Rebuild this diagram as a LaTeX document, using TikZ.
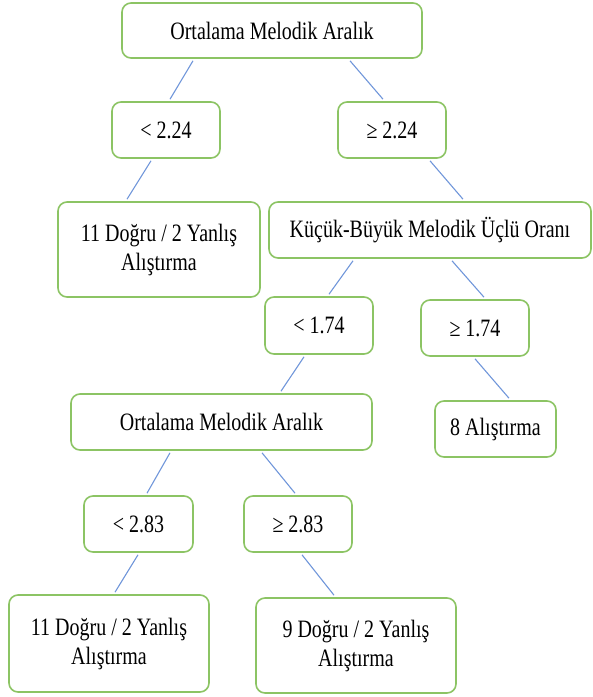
\documentclass[tikz,border=0pt]{standalone}
\usepackage{fontspec}
\setmainfont{Liberation Serif}[FakeStretch=0.8]
\usetikzlibrary{calc}
\definecolor{boxgreen}{RGB}{140,196,100}
\definecolor{lineblue}{RGB}{112,150,218}
\tikzset{
  box/.style={draw=boxgreen, line width=1.6pt, rounded corners=9pt, fill=white,
    align=center, inner sep=0pt, font=\fontsize{25}{29}\selectfont, text=black},
  conn/.style={draw=lineblue, line width=1.1pt},
}
\newcommand{\cn}[4]{\draw[conn] ([xshift=#2pt,yshift=-2pt]#1.south) -- ([xshift=#4pt,yshift=2pt]#3.north);}
\begin{document}
\begin{tikzpicture}[x=1pt,y=-1pt]
\useasboundingbox (0,0) rectangle (593,697);
\node[box, minimum width=300pt, minimum height=55pt] (top) at (272,30.5) {Ortalama Melodik Aralık};
\node[box, minimum width=108pt, minimum height=56pt] (lta) at (166,130) {< 2.24};
\node[box, minimum width=108pt, minimum height=56pt] (gea) at (392,130) {≥ 2.24};
\node[box, minimum width=202pt, minimum height=95pt] (da) at (159,249.5) {11 Doğru / 2 Yanlış\\Alıştırma};
\node[box, minimum width=322pt, minimum height=56pt] (kb) at (430,230) {Küçük-Büyük Melodik Üçlü Oranı};
\node[box, minimum width=108pt, minimum height=57pt] (ltb) at (319,325.5) {< 1.74};
\node[box, minimum width=108pt, minimum height=56pt] (geb) at (475,328) {≥ 1.74};
\node[box, minimum width=121pt, minimum height=56pt] (al) at (495.5,429) {8 Alıştırma};
\node[box, minimum width=301pt, minimum height=56pt] (om) at (221.5,422) {Ortalama Melodik Aralık};
\node[box, minimum width=109pt, minimum height=56pt] (ltc) at (138.5,524) {< 2.83};
\node[box, minimum width=108pt, minimum height=56pt] (gec) at (298,524) {≥ 2.83};
\node[box, minimum width=200pt, minimum height=97pt] (db) at (109,643.5) {11 Doğru / 2 Yanlış\\Alıştırma};
\node[box, minimum width=200pt, minimum height=95pt] (dc) at (356,645.5) {9 Doğru / 2 Yanlış\\Alıştırma};
\cn{top}{-79}{lta}{4}
\cn{top}{78}{gea}{-9}
\cn{lta}{-15}{da}{-32}
\cn{gea}{38}{kb}{33}
\cn{kb}{-77}{ltb}{10}
\cn{kb}{22}{geb}{9}
\cn{ltb}{-15}{om}{59.5}
\cn{geb}{0}{al}{13.5}
\cn{om}{-51.5}{ltc}{8.5}
\cn{om}{40.5}{gec}{-3}
\cn{ltc}{-0.5}{db}{6}
\cn{gec}{4}{dc}{-22}
\end{tikzpicture}
\end{document}
